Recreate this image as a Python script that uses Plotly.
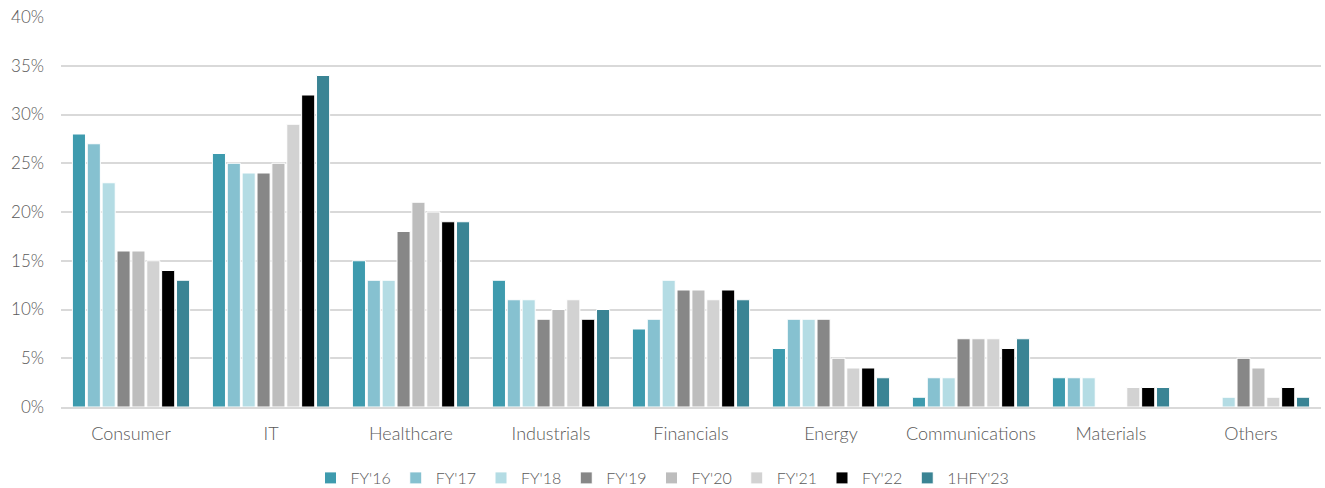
import plotly.graph_objects as go

categories = ["Consumer", "IT", "Healthcare", "Industrials", "Financials", "Energy",
              "Communications", "Materials", "Others"]
series_names = ["FY'16", "FY'17", "FY'18", "FY'19", "FY'20", "FY'21", "FY'22", "1HFY'23"]
fy16 = [28, 26, 15, 13, 8, 6, 1, 3, 0]
fy17 = [27, 25, 13, 11, 9, 9, 3, 3, 0]
fy18 = [23, 24, 13, 11, 13, 9, 3, 3, 1]
fy19 = [16, 24, 18, 9, 12, 9, 7, 0, 5]
fy20 = [16, 25, 21, 10, 12, 5, 7, 0, 4]
fy21 = [15, 29, 20, 11, 11, 4, 7, 2, 1]
fy22 = [14, 32, 19, 9, 12, 4, 6, 2, 2]
h1fy23 = [13, 34, 19, 10, 11, 3, 7, 2, 1]
series_values = [fy16, fy17, fy18, fy19, fy20, fy21, fy22, h1fy23]
colors = ["#3E9BAE", "#86C1D0", "#B4DCE4", "#878787", "#BDBDBD", "#D2D2D2", "#000000", "#3A8494"]

fig = go.Figure()
for name, vals, c in zip(series_names, series_values, colors):
    fig.add_trace(go.Bar(
        x=categories, y=[v / 100 for v in vals], name=name,
        marker=dict(color=c, line=dict(color="white", width=1)),
    ))

fig.update_layout(
    width=1325, height=488,
    margin=dict(l=61, r=4, t=17, b=81, autoexpand=False),
    paper_bgcolor="white", plot_bgcolor="white",
    font=dict(family="Lato", size=17, color="#595959", weight=300),
    barmode="group", bargap=0.15, bargroupgap=0.12,
    legend=dict(orientation="h", x=0.5, xanchor="center", xref="container",
                y=10 / 488, yanchor="middle", yref="container",
                font=dict(family="Lato", size=16, color="#595959", weight=300),
                itemwidth=30, traceorder="normal"),
    showlegend=True,
)
fig.update_yaxes(range=[0, 0.40], dtick=0.05, tickformat=".0%", showgrid=True,
                 gridcolor="#D9D9D9", gridwidth=2, zeroline=False, showline=False,
                 ticks="", ticklabelstandoff=16, tickfont=dict(size=17))
fig.update_xaxes(showline=True, linecolor="#D9D9D9", linewidth=2, ticks="",
                 showgrid=False, ticklabelstandoff=9, tickfont=dict(size=18))

fig.write_html("out.html")
